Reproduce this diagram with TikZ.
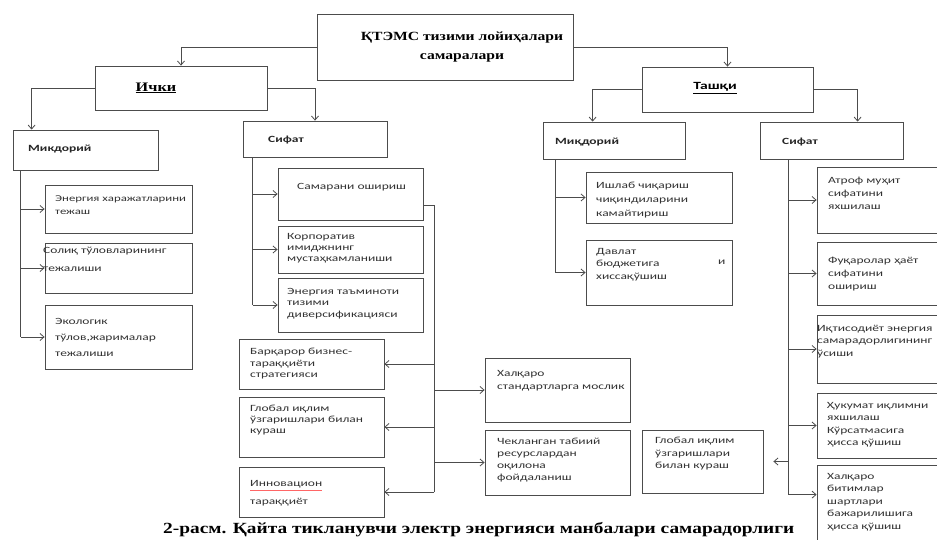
\documentclass[tikz,border=0pt]{standalone}
\usepackage{fontspec}
\setmainfont{Liberation Serif}
\newfontfamily\boxfnt[FakeStretch=1.42]{Carlito}
\newfontfamily\serfnt[FakeStretch=1.25]{Liberation Serif}
\usetikzlibrary{arrows.meta,fit}
\begin{document}
\begin{tikzpicture}[x=1pt,y=-1pt,
 box/.style={draw=black!70, line width=0.8pt, inner sep=0pt},
 ln/.style={draw=black!70, line width=0.8pt},
 arr/.style={draw=black!70, line width=0.8pt, -{Straight Barb[length=4pt,width=7pt]}},
 txt/.style={anchor=north west, inner sep=0pt, align=left, text=black!80},
 hd/.style={anchor=west, inner sep=0pt, font=\boxfnt\bfseries\fontsize{9.5}{12}\selectfont, text=black!85}]
\useasboundingbox (0,0) rectangle (937,540);
\fill[white] (0,0) rectangle (937,540);
% top level
\node[box, fit={(317,14)(573,80)}] (top) {};
\node[align=center, inner sep=0pt, font=\serfnt\bfseries\fontsize{12.5}{19}\selectfont] (topt) at (462,47) {ҚТЭМС тизими лойиҳалари\\самаралари};
\node[box, fit={(95,66)(267,110)}] (ich) {};
\node[inner sep=0pt, font=\serfnt\bfseries\fontsize{13}{15}\selectfont] (icht) at (156,88) {\underline{Ички}};
\node[box, fit={(642,67)(813,112)}] (tash) {};
\node[inner sep=0pt, font=\boxfnt\bfseries\fontsize{11}{13}\selectfont] (tasht) at (715,88) {\underline{Ташқи}};
% second level
\node[box, fit={(13,130)(158,170)}] (mikL) {};
\node[hd] (mikLt) at (28,149) {Микдорий};
\node[box, fit={(243,121)(387,157)}] (sifL) {};
\node[hd] (sifLt) at (268,140) {Сифат};
\node[box, fit={(543,122)(685,159)}] (mikR) {};
\node[hd] (mikRt) at (555,142) {Миқдорий};
\node[box, fit={(760,122)(903,159)}] (sifR) {};
\node[hd] (sifRt) at (782,142) {Сифат};
% leaves, inner quantitative
\node[box, fit={(45,185)(192,233)}] (b1) {};
\node[txt, font=\boxfnt\fontsize{9}{13}\selectfont] (b1t) at (55,195) {Энергия харажатларини\\тежаш};
\node[box, fit={(45,243)(192,293)}] (b2) {};
\node[txt, font=\boxfnt\fontsize{9.5}{18}\selectfont] (b2t) at (43,247) {Солиқ тўловларининг\\тежалиши};
\node[box, fit={(45,305)(192,369)}] (b3) {};
\node[txt, font=\boxfnt\fontsize{9.5}{16}\selectfont] (b3t) at (55,318) {Экологик\\тўлов,жарималар\\тежалиши};
% inner qualitative
\node[box, fit={(278,168)(423,220)}] (A) {};
\node[txt, font=\boxfnt\fontsize{9.5}{12}\selectfont] (At) at (297,183) {Самарани ошириш};
\node[box, fit={(278,226)(423,273)}] (B) {};
\node[txt, font=\boxfnt\fontsize{9.5}{11}\selectfont] (Bt) at (287,233) {Корпоратив\\имиджнинг\\мустаҳкамланиши};
\node[box, fit={(278,278)(423,332)}] (C) {};
\node[txt, font=\boxfnt\fontsize{9.5}{11.5}\selectfont] (Ct) at (287,288) {Энергия таъминоти\\тизими\\диверсификацияси};
\node[box, fit={(239,339)(384,389)}] (D) {};
\node[txt, font=\boxfnt\fontsize{9.5}{11.5}\selectfont] (Dt) at (250,348) {Барқарор бизнес-\\тараққиёти\\стратегияси};
\node[box, fit={(239,397)(384,457)}] (E) {};
\node[txt, font=\boxfnt\fontsize{9.5}{11}\selectfont] (Et) at (250,405) {Глобал иқлим\\ўзгаришлари билан\\кураш};
\node[box, fit={(239,467)(384,517)}] (F) {};
\node[txt, font=\boxfnt\fontsize{9.5}{18}\selectfont] (Ft) at (250,480) {Инновацион\\тараққиёт};
\draw[red!60, line width=0.6pt] ([yshift=-10pt]Ft.north west) -- ++(72,0);
\node[box, fit={(485,358)(630,422)}] (G) {};
\node[txt, font=\boxfnt\fontsize{9.5}{13}\selectfont] (Gt) at (497,370) {Халқаро\\стандартларга мослик};
\node[box, fit={(485,430)(630,495)}] (H) {};
\node[txt, font=\boxfnt\fontsize{9.5}{12}\selectfont] (Ht) at (497,438) {Чекланган табиий\\ресурслардан\\оқилона\\фойдаланиш};
\node[box, fit={(642,430)(763,493)}] (I) {};
\node[txt, font=\boxfnt\fontsize{9.5}{12.5}\selectfont] (It) at (655,437) {Глобал иқлим\\ўзгаришлари\\билан кураш};
% outer quantitative
\node[box, fit={(586,172)(732,223)}] (J) {};
\node[txt, font=\boxfnt\fontsize{9.5}{14}\selectfont] (Jt) at (596,182) {Ишлаб чиқариш\\чиқиндиларини\\камайтириш};
\node[box, fit={(586,240)(732,305)}] (K) {};
\node[txt, font=\boxfnt\fontsize{9.5}{12.5}\selectfont] (Kt) at (596,248) {Давлат\\бюджетига\\хиссақўшиш};
\node[txt, font=\boxfnt\fontsize{9.5}{12.5}\selectfont] (Kt2) at (718,260) {и};
% outer qualitative
\node[box, fit={(817,167)(940,233)}] (L) {};
\node[txt, font=\boxfnt\fontsize{9.5}{13}\selectfont] (Lt) at (828,177) {Атроф муҳит\\сифатини\\яхшилаш};
\node[box, fit={(817,242)(940,305)}] (M) {};
\node[txt, font=\boxfnt\fontsize{9.5}{13}\selectfont] (Mt) at (828,257) {Фуқаролар ҳаёт\\сифатини\\ошириш};
\node[box, fit={(817,315)(940,383)}] (N) {};
\node[txt, font=\boxfnt\fontsize{9.5}{12.5}\selectfont] (Nt) at (817,325) {Иқтисодиёт энергия\\самарадорлигининг\\ўсиши};
\node[box, fit={(817,393)(940,458)}] (O) {};
\node[txt, font=\boxfnt\fontsize{9.5}{12.5}\selectfont] (Ot) at (827,402) {Ҳукумат иқлимни\\яхшилаш\\Кўрсатмасига\\ҳисса қўшиш};
\node[box, fit={(817,465)(940,560)}] (P) {};
\node[txt, font=\boxfnt\fontsize{9.5}{12.5}\selectfont] (Pt) at (827,473) {Халқаро\\битимлар\\шартлари\\бажарилишига\\ҳисса қўшиш};
% caption
\node[anchor=base west, inner sep=0pt, font=\serfnt\bfseries\fontsize{15.5}{17}\selectfont] (cap) at (163,533) {2-расм. Қайта тикланувчи электр энергияси манбалари самарадорлиги};
% top connectors
\draw[arr] (top.west) -| (ich.north);
\draw[arr] (top.east) -| (tash.north);
\draw[arr] (ich.west) -| ([xshift=19pt]mikL.north west);
\draw[arr] (ich.east) -| (sifL.north);
\draw[arr] (tash.west) -| ([xshift=50pt]mikR.north west);
\draw[arr] (tash.east) -| ([xshift=98pt]sifR.north west);
% trunks
\coordinate (tL) at ([xshift=8pt]mikL.south west);
\draw[ln] (tL) -- (b3.west -| tL);
\foreach \b in {b1,b2,b3} \draw[arr] (\b.west -| tL) -- (\b.west);
\coordinate (tS) at ([xshift=10pt]sifL.south west);
\draw[ln] (tS) -- (C.west -| tS);
\foreach \b in {A,B,C} \draw[arr] (\b.west -| tS) -- (\b.west);
\coordinate (aE) at ([yshift=-11pt]A.east);
\coordinate (tQ) at ([xshift=11pt]aE);
\draw[ln] (aE) -- (tQ) -- (F.east -| tQ);
\foreach \b in {D,E,F} \draw[arr] (\b.east -| tQ) -- (\b.east);
\foreach \b in {G,H} \draw[arr] (\b.west -| tQ) -- (\b.west);
\coordinate (tM) at ([xshift=13pt]mikR.south west);
\draw[ln] (tM) -- (K.west -| tM);
\foreach \b in {J,K} \draw[arr] (\b.west -| tM) -- (\b.west);
\coordinate (tR) at ([xshift=29pt]sifR.south west);
\coordinate (pA) at ([yshift=-30pt]P.north west);
\draw[ln] (tR) -- (pA -| tR);
\foreach \b in {L,M,N,O} \draw[arr] (\b.west -| tR) -- (\b.west);
\draw[arr] (pA -| tR) -- (pA);
\draw[arr, shorten >=10pt] (I.east -| tR) -- (I.east);
\end{tikzpicture}
\end{document}
